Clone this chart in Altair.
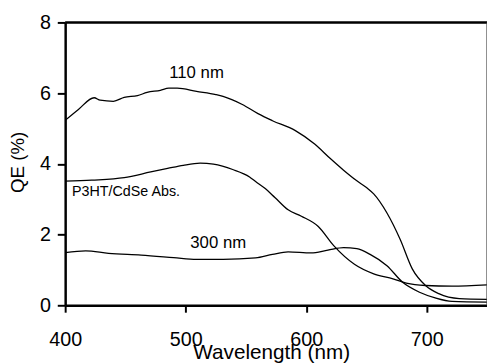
import altair as alt
import pandas as pd

FONT = "Liberation Sans, Arial, Helvetica, sans-serif"

# 110 nm device QE
x_110 = [400, 411, 424, 429, 440, 449, 460, 468, 479, 486, 493, 509, 525, 531, 547, 560, 572,
         591, 607, 620, 631, 642, 650, 656, 667, 678, 688, 699, 710, 727, 750]
y_110 = [5.23, 5.54, 5.87, 5.80, 5.77, 5.88, 5.93, 6.02, 6.08, 6.14, 6.14, 6.05, 5.96, 5.91, 5.68, 5.42, 5.22,
         4.94, 4.56, 4.15, 3.82, 3.52, 3.33, 3.15, 2.61, 1.86, 1.03, 0.56, 0.33, 0.19, 0.17]

# 300 nm device QE
x_300 = [400, 417, 436, 463, 490, 509, 531, 558, 572, 585, 604, 618, 631, 642, 653, 667, 680, 694, 707, 721, 750]
y_300 = [1.49, 1.54, 1.47, 1.42, 1.35, 1.30, 1.30, 1.34, 1.44, 1.51, 1.48, 1.56, 1.63, 1.60, 1.44, 1.12, 0.65,
         0.37, 0.21, 0.11, 0.09]

# P3HT/CdSe absorption (scaled)
x_abs = [400, 422, 449, 471, 485, 498, 512, 523, 539, 553, 558, 566, 574, 585, 596, 610, 623, 640, 656, 672,
         683, 699, 721, 750]
y_abs = [3.51, 3.54, 3.61, 3.77, 3.87, 3.96, 4.02, 3.99, 3.84, 3.63, 3.50, 3.30, 3.05, 2.70, 2.52, 2.23, 1.68,
         1.16, 0.89, 0.75, 0.63, 0.56, 0.54, 0.58]

label_text = ["110 nm", "P3HT/CdSe Abs.", "300 nm"]
label_x = [509, 405.7, 527]
label_y = [6.58, 3.19, 1.75]

x_ticks = [400, 500, 600, 700]
y_ticks = [0, 2, 4, 6, 8]

rows = []
for name, xs, ys in [("110 nm", x_110, y_110), ("300 nm", x_300, y_300), ("Abs", x_abs, y_abs)]:
    for a, b in zip(xs, ys):
        rows.append({"series": name, "wl": a, "qe": b})
df = pd.DataFrame(rows)

W, H = 428, 287

xs = alt.Scale(domain=[400, 750], nice=False, zero=False)
ys = alt.Scale(domain=[0, 8], nice=False)

lines = alt.Chart(df).mark_line(color="black", strokeWidth=1.3, interpolate="monotone", clip=True).encode(
    x=alt.X("wl:Q", scale=xs, title="Wavelength (nm)",
            axis=alt.Axis(values=x_ticks, grid=False, domainColor="black", domainWidth=2.5,
                          tickColor="black", tickWidth=2, tickSize=7, labelFontSize=20,
                          labelFont=FONT, labelColor="black", labelPadding=18,
                          titleFont=FONT, titleFontSize=21, titleFontWeight="normal",
                          titleColor="black", titleY=54, titleX=W / 2 - 5,
                          titleBaseline="alphabetic", labelFlush=False)),
    y=alt.Y("qe:Q", scale=ys, title="QE (%)",
            axis=alt.Axis(values=y_ticks, grid=False, domainColor="black", domainWidth=2.5,
                          tickColor="black", tickWidth=2, tickSize=8, labelFontSize=20,
                          labelFont=FONT, labelColor="black", labelPadding=7,
                          titleFont=FONT, titleFontSize=19, titleFontWeight="normal",
                          titleColor="black", titleX=-42, titleY=H / 2 - 2,
                          titleBaseline="alphabetic", labelFlush=False)),
    detail="series:N",
)

big = pd.DataFrame({"t": [label_text[0], label_text[2]], "x": [label_x[0], label_x[2]],
                    "y": [label_y[0], label_y[2]]})
small = pd.DataFrame({"t": [label_text[1]], "x": [label_x[1]], "y": [label_y[1]]})

big_txt = alt.Chart(big).mark_text(font=FONT, fontSize=17, color="black", align="center",
                                   baseline="middle").encode(
    x=alt.X("x:Q", scale=xs), y=alt.Y("y:Q", scale=ys), text="t:N")
small_txt = alt.Chart(small).mark_text(font=FONT, fontSize=14.5, color="black", align="left",
                                       baseline="middle").encode(
    x=alt.X("x:Q", scale=xs), y=alt.Y("y:Q", scale=ys), text="t:N")

top_rule = alt.Chart(pd.DataFrame({"a": [0]})).mark_rule(color="black", strokeWidth=2.5).encode(
    x=alt.value(0), x2=alt.value(W), y=alt.value(0))
right_rule = alt.Chart(pd.DataFrame({"a": [0]})).mark_rule(color="#444444", strokeWidth=1.2).encode(
    x=alt.value(W), y=alt.value(0), y2=alt.value(H))

chart = alt.layer(lines, big_txt, small_txt, top_rule, right_rule).properties(
    width=W, height=H,
    autosize=alt.AutoSizeParams(type="none"),
    padding={"left": 58, "top": 12, "right": 0, "bottom": 62},
).configure_view(stroke=None).configure(background="white")

chart.save("out.html", embed_options={"renderer": "svg", "actions": False})
